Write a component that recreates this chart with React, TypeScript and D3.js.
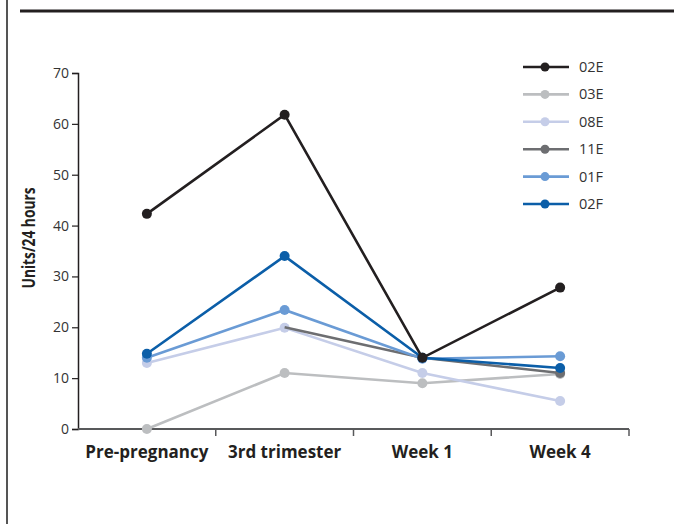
import React, { useEffect, useRef } from 'react';
import * as d3 from 'd3';

const categories = ['Pre-pregnancy', '3rd trimester', 'Week 1', 'Week 4'];
const seriesNames = ['02E', '03E', '08E', '11E', '01F', '02F'];
const seriesColors = ['#231f20', '#bcbec0', '#c5cde8', '#6d6e71', '#6a9bd5', '#0b5ea8'];

const s02E = [42.3, 61.8, 14, 27.8];
const s03E = [0, 11, 9, 10.8];
const s08E = [13, 19.9, 11, 5.5];
const s11E = [null, 20, 14, 11];
const s01F = [14, 23.4, 13.8, 14.3];
const s02F = [14.8, 34, 14, 12];

const yTicks = [0, 10, 20, 30, 40, 50, 60, 70];

const W = 674;
const H = 524;

const App: React.FC = () => {
    const ref = useRef<SVGSVGElement>(null);

    useEffect(() => {
        const svg = d3.select(ref.current);
        svg.selectAll('*').remove();

        const font = "'Open Sans', 'Noto Sans', sans-serif";

        // frame lines
        svg.append('line').attr('x1', 7).attr('x2', 7).attr('y1', 0).attr('y2', H)
            .attr('stroke', '#555').attr('stroke-width', 2);
        svg.append('rect').attr('x', 20).attr('y', 9.5).attr('width', W - 20).attr('height', 3)
            .attr('fill', '#231f20');

        const x = d3.scalePoint<string>().domain(categories).range([78, 629]).padding(0.5);
        const y = d3.scaleLinear().domain([0, 70]).range([429, 73]);

        // y axis
        const yAxis = svg.append('g').attr('transform', 'translate(78,0)')
            .call(d3.axisLeft(y).tickValues(yTicks).tickSize(6).tickPadding(3));
        yAxis.select('.domain').attr('stroke', '#231f20').attr('stroke-width', 1.5);
        yAxis.selectAll('.tick line').attr('stroke', '#231f20').attr('stroke-width', 1.2);
        yAxis.selectAll('.tick text').attr('font-family', font).attr('font-size', 14)
            .attr('fill', '#333');

        // x axis line with ticks between categories
        const step = x.step();
        svg.append('line').attr('x1', 78).attr('x2', 629).attr('y1', 429).attr('y2', 429)
            .attr('stroke', '#58595b').attr('stroke-width', 2);
        categories.forEach((c) => {
            const bx = (x(c) as number) + step / 2;
            svg.append('line').attr('x1', bx).attr('x2', bx).attr('y1', 429).attr('y2', 436)
                .attr('stroke', '#58595b').attr('stroke-width', 1.5);
            svg.append('text').attr('x', x(c) as number).attr('y', 458)
                .attr('text-anchor', 'middle').attr('font-family', font)
                .attr('font-weight', 'bold').attr('font-size', 17).attr('fill', '#231f20')
                .text(c);
        });

        // y label
        svg.append('text').attr('transform', 'translate(35,238) rotate(-90)')
            .attr('text-anchor', 'middle').attr('font-family', font).attr('font-weight', 'bold')
            .attr('font-size', 17.5).attr('fill', '#231f20')
            .attr('textLength', 101).attr('lengthAdjust', 'spacingAndGlyphs')
            .text('Units/24 hours');

        const allSeries = [s02E, s03E, s08E, s11E, s01F, s02F];
        const order = [1, 2, 3, 4, 5, 0];

        const line = d3.line<number | null>()
            .defined((d) => d !== null)
            .x((_, i) => x(categories[i]) as number)
            .y((d) => y(d as number));

        order.forEach((si) => {
            const data = allSeries[si];
            const g = svg.append('g');
            g.append('path').attr('d', line(data)).attr('fill', 'none')
                .attr('stroke', seriesColors[si]).attr('stroke-width', 2.6);
            data.forEach((v, i) => {
                if (v === null) return;
                if (si === 3 && i === 1) return;
                g.append('circle').attr('cx', x(categories[i]) as number).attr('cy', y(v))
                    .attr('r', 5).attr('fill', seriesColors[si]);
            });
        });

        // legend
        seriesNames.forEach((n, i) => {
            const ly = 67 + i * 27.4;
            svg.append('line').attr('x1', 523).attr('x2', 569).attr('y1', ly).attr('y2', ly)
                .attr('stroke', seriesColors[i]).attr('stroke-width', 2.6);
            svg.append('circle').attr('cx', 545).attr('cy', ly).attr('r', 4.5)
                .attr('fill', seriesColors[i]);
            svg.append('text').attr('x', 579).attr('y', ly + 5).attr('font-family', font)
                .attr('font-size', 14.5).attr('fill', '#333').text(n);
        });
    }, []);

    return (
        <div style={{ position: 'absolute', left: 0, top: 0 }}>
            <svg ref={ref} width={W} height={H} style={{ display: 'block', background: '#fff' }}></svg>
        </div>
    );
};

export default App;
